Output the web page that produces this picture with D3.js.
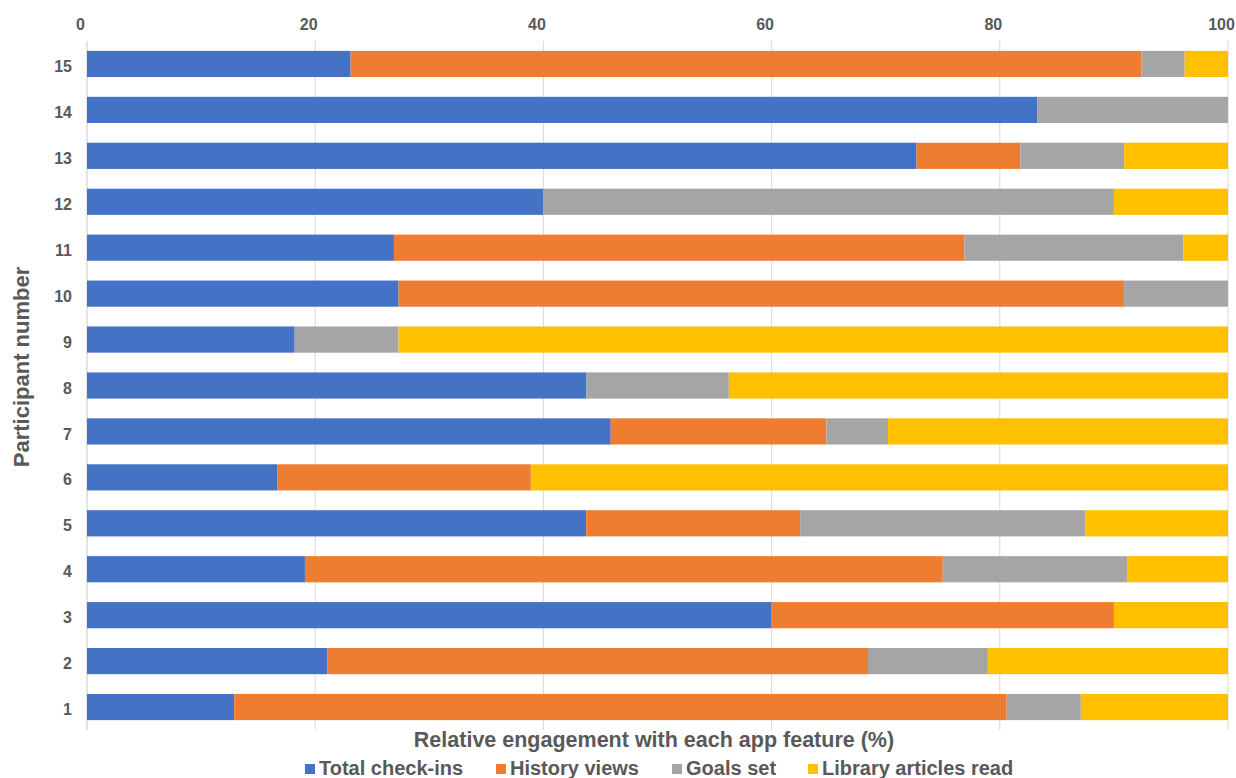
<!DOCTYPE html>
<html><head><meta charset="utf-8">
<script src="https://cdn.jsdelivr.net/npm/d3@7"></script>
<style>body{margin:0;background:#fff;} text{font-family:"Liberation Sans",Arial,sans-serif;}</style>
</head><body>
<svg id="c" width="1236" height="778"></svg>
<script>
const participants = ["15","14","13","12","11","10","9","8","7","6","5","4","3","2","1"];
const seriesNames = ["Total check-ins","History views","Goals set","Library articles read"];
const seriesColors = ["#4472C4","#ED7D31","#A5A5A5","#FFC000"];
const checkIns =  [23.1, 83.3, 72.7, 40.0, 26.9, 27.3, 18.2, 43.75, 45.9, 16.7, 43.75, 19.1, 60.0, 21.05, 12.9];
const history =   [69.3,  0.0,  9.1,  0.0, 50.0, 63.6,  0.0,  0.0, 18.9, 22.2, 18.75, 55.9, 30.0, 47.4, 67.7];
const goals =     [ 3.8, 16.7,  9.1, 50.0, 19.2,  9.1,  9.1, 12.5,  5.4,  0.0, 25.0, 16.2,  0.0, 10.5,  6.5];
const library =   [ 3.8,  0.0,  9.1, 10.0,  3.9,  0.0, 72.7, 43.75, 29.8, 61.1, 12.5,  8.8, 10.0, 21.05, 12.9];
const xTicks = [0,20,40,60,80,100];

(function(){
const svg = d3.select("#c");
const mLeft = 87, mRight = 1228, mTop = 41, mBottom = 730;
const grey = "#595959";
const x = d3.scaleLinear().domain([0,100]).range([mLeft,mRight]);
const y = d3.scaleBand().domain(participants).range([mTop,mBottom]).paddingInner(0.43).paddingOuter(0.215);

const data = participants.map((p,i)=>({p, "Total check-ins":checkIns[i], "History views":history[i], "Goals set":goals[i], "Library articles read":library[i]}));
const stack = d3.stack().keys(seriesNames)(data);

svg.append("g").selectAll("line").data(xTicks).join("line")
  .attr("x1",d=>x(d)).attr("x2",d=>x(d)).attr("y1",mTop).attr("y2",mBottom)
  .attr("stroke",d=>d===0?"#c8c8c8":"#d9d9d9").attr("stroke-width",1);

svg.append("g").selectAll("g").data(stack).join("g")
  .attr("fill",(d,i)=>seriesColors[i])
  .selectAll("rect").data(d=>d).join("rect")
  .attr("x",d=>x(Math.min(d[0],100))).attr("width",d=>Math.max(0,x(Math.min(d[1],100))-x(Math.min(d[0],100))))
  .attr("y",d=>y(d.data.p)).attr("height",y.bandwidth());

const xa = svg.append("g").attr("transform",`translate(-7,30)`)
  .call(d3.axisTop(x).tickValues(xTicks).tickSize(0).tickPadding(0));
xa.select(".domain").remove();
xa.selectAll("text").attr("fill",grey).attr("font-size","16px").attr("font-weight","bold").attr("dy","0");

const ya = svg.append("g").attr("transform",`translate(72,3)`)
  .call(d3.axisLeft(y).tickSize(0).tickPadding(0));
ya.select(".domain").remove();
ya.selectAll("text").attr("fill",grey).attr("font-size","16px").attr("font-weight","bold");

svg.append("text").attr("x",654).attr("y",747).attr("text-anchor","middle")
  .attr("fill",grey).attr("font-size","21.5px").attr("font-weight","bold")
  .text("Relative engagement with each app feature (%)");
svg.append("text").attr("transform","translate(29,367) rotate(-90)").attr("text-anchor","middle")
  .attr("fill",grey).attr("font-size","22px").attr("font-weight","bold")
  .text("Participant number");

const legX = [305, 496, 672, 808];
const leg = svg.append("g").selectAll("g").data(seriesNames).join("g")
  .attr("transform",(d,i)=>`translate(${legX[i]},775)`);
leg.append("rect").attr("x",0).attr("y",-11).attr("width",10).attr("height",10).attr("fill",(d,i)=>seriesColors[i]);
leg.append("text").attr("x",14).attr("y",0).attr("fill",grey).attr("font-size","20px").attr("font-weight","bold").text(d=>d);
})();
</script>
</body></html>
